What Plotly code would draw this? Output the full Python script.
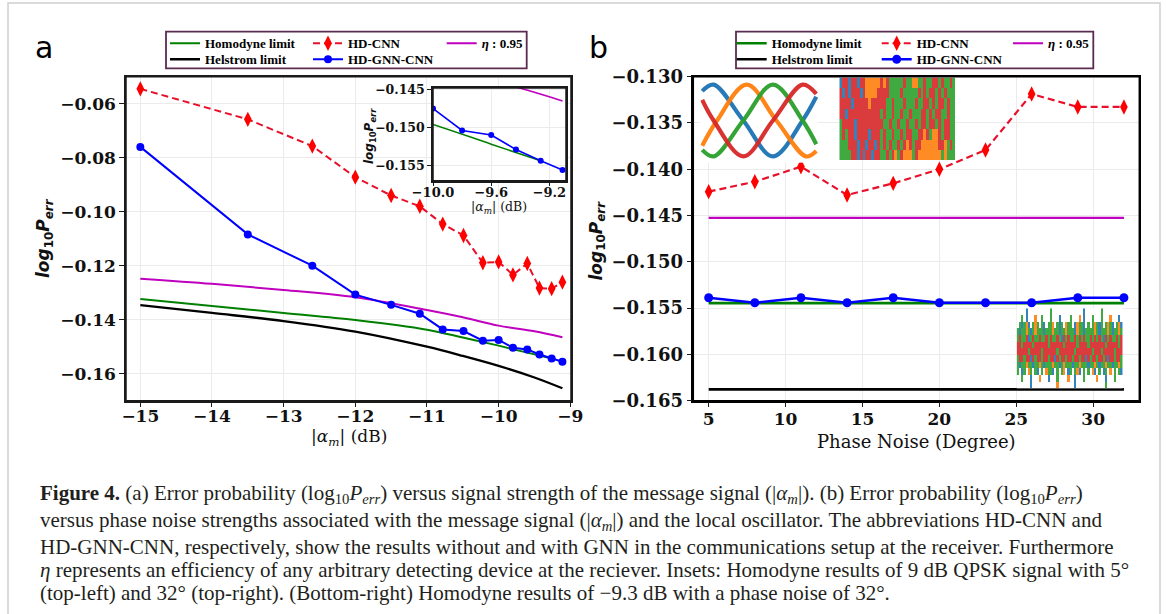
import plotly.graph_objects as go

W, H = 1167, 614


def px(xp):
    return xp / W


def py(yp):
    return 1 - yp / H


# ---------------- Panel (a) data ----------------
alpha_db = [-15.0, -13.5, -12.6, -12.0, -11.5, -11.1, -10.78, -10.49, -10.22, -10.0, -9.8, -9.6, -9.43, -9.26, -9.11]
hd_cnn_a = [-0.0545, -0.0658, -0.0757, -0.0872, -0.0940, -0.0980, -0.1046, -0.1088, -0.1189, -0.1186,
            -0.1234, -0.1192, -0.1283, -0.1285, -0.1261]
hd_gnn_cnn_a = [-0.0760, -0.1084, -0.1200, -0.1307, -0.1345, -0.1378, -0.1436, -0.1442, -0.1478, -0.1475,
                -0.1504, -0.1510, -0.1529, -0.1544, -0.1556]
homodyne_x = [-15.0, -14.0, -13.0, -12.0, -11.0, -10.5, -10.0, -9.6, -9.26]
homodyne_a = [-0.1323, -0.1349, -0.1375, -0.1401, -0.1437, -0.1466, -0.1496, -0.1522, -0.1544]
limit_x = [-15.0, -14.0, -13.0, -12.0, -11.0, -10.5, -10.0, -9.5, -9.11]
helstrom_a = [-0.1346, -0.1375, -0.1405, -0.1444, -0.1500, -0.1534, -0.1571, -0.1614, -0.1654]
eta_a = [-0.1248, -0.1267, -0.1290, -0.1317, -0.1364, -0.1391, -0.1422, -0.1443, -0.1465]

a_xticks = [-15, -14, -13, -12, -11, -10, -9]
a_xticktext = ["\u221215", "\u221214", "\u221213", "\u221212", "\u221211", "\u221210", "\u22129"]
a_yticks = [-0.16, -0.14, -0.12, -0.10, -0.08, -0.06]
a_yticktext = ["\u22120.16", "\u22120.14", "\u22120.12", "\u22120.10", "\u22120.08", "\u22120.06"]
inset_xticks = [-10.0, -9.6, -9.2]
inset_xticktext = ["\u221210.0", "\u22129.6", "\u22129.2"]
inset_yticks = [-0.155, -0.150, -0.145]
inset_yticktext = ["\u22120.155", "\u22120.150", "\u22120.145"]

# ---------------- Panel (b) data ----------------
phase_noise = [5, 8, 11, 14, 17, 20, 23, 26, 29, 32]
hd_cnn_b = [-0.14242, -0.14134, -0.13972, -0.14278, -0.14152, -0.14000, -0.13792, -0.13187, -0.13327, -0.13327]
hd_gnn_cnn_b = [-0.15388, -0.15442, -0.15388, -0.15442, -0.15388, -0.15442, -0.15442, -0.15442, -0.15388, -0.15388]
homodyne_b = [-0.15446, -0.15446, -0.15446, -0.15446, -0.15446, -0.15446, -0.15446, -0.15446, -0.15446, -0.15446]
helstrom_b = [-0.16378, -0.16378, -0.16378, -0.16378, -0.16378, -0.16378, -0.16378, -0.16378, -0.16378, -0.16378]
eta_b = [-0.14525, -0.14525, -0.14525, -0.14525, -0.14525, -0.14525, -0.14525, -0.14525, -0.14525, -0.14525]

b_xticks = [5, 10, 15, 20, 25, 30]
b_xticktext = ["5", "10", "15", "20", "25", "30"]
b_yticks = [-0.165, -0.160, -0.155, -0.150, -0.145, -0.140, -0.135, -0.130]
b_yticktext = ["\u22120.165", "\u22120.160", "\u22120.155", "\u22120.150", "\u22120.145", "\u22120.140",
               "\u22120.135", "\u22120.130"]

# ---------------- Inset images ----------------
# eye diagram (5 deg): normalised time and amplitude of each of the four QPSK traces
eye_t = [0.0, 0.10, 0.36, 0.62, 0.88, 1.0]
eye_t_orange = [0.0, 0.13, 0.39, 0.65, 0.91, 1.0]
eye_blue = [0.885, 0.97, 0.50, 0.03, 0.50, 0.81]
eye_orange = [0.17, 0.50, 0.97, 0.50, 0.03, 0.10]
eye_green = [0.115, 0.03, 0.50, 0.97, 0.50, 0.19]
eye_red = [0.77, 0.50, 0.03, 0.50, 0.97, 0.85]

# dominant trace colour per cell (B blue, O orange, G green, R red, . empty), top row first
noise32_rows = [
    "BRRBRRBRRO" "OOOORORGGG" "GGRGGOOGGR" "GGRRGRGGRG",
    "RBRBRRRBRO" "OOORRRRGGG" "GRGGGGGRGR" "GRRGRGRGGG",
    "RRRRBRRRRR" "ORRRRRGGRG" "GGRGGGRGGR" "RGRGRRGRGG",
    "RRBRRRRRRR" "RRRRGRGGRG" "GRGGRGGGRR" "GRGRRGGRGG",
    "GRRRRBRRRR" "RRRRRGGRGG" "RGGRGGRGRR" "GRRGRGRRGG",
    "GRGRRBRRRR" "BRRRGRGGRG" "GRGRRGGRRO" "RGOORGRRGG",
    "GGGRRRBRRB" "RRBRGRGRGG" "RGRORGRROO" "OOOORROGRG",
    "GGGGRRBRBR" "RBRRGGRGRO" "GROOOGROOO" "OOOOOGOGGG",
]
noise_low_rows = [
    "....B......." "...G........" "......B....." "..G.........",
    "..G.B...O..G" "...G...B...." "G...O.B...G." "..G...O...B.",
    ".GBGOB.GOG.G" "B.GGO.GBG.OG" "G.BOGGB.G.GO" "GBG.GOGB.GOB",
    "GBGGOGBGOGGG" "BGGGOGGBGGOG" "GGBOGGBGGGGO" "GBGGGOGBGGOG",
    "GRGGRBGRGGRG" "GRGRGGRGBRGR" "GGRGRGRGGRGR" "GRGBRGRGGRGR",
    "RRGRRRRGRRRR" "RRGRRRRRRGRR" "RRRGRRRRGRRR" "RRRRGRRRRRGR",
    "RRRRRGRRRRRG" "RRRRRRGRRRRR" "RRGRRRRRRRGR" "RRGRRRRRGRRR",
    "GRRGRRBRGRRG" "RRGRRBRGRRGR" "RGRRGRRBRGRR" "GRRGRBRRGRRG",
    "GBGGOGGBGGOG" "BGGGOGGBGOGG" "GBGGOGGGBGGO" "GBGGOGGBGGOG",
    "G.BG.OG.GB.G" ".OGGB.G.GO.B" "G.GOB.G.G.OB" ".G.BG.O.G.GB",
    "..G...B...O." "..B...G....O" "..B...G....." "O...B...G...",
    "......B....." "......O....." "..B........." "....G.......",
]

TAB = {"B": "#1f77b4", "O": "#ff7f0e", "G": "#2ca02c", "R": "#d62728"}
CODE = {"B": 0, "O": 1, "G": 2, "R": 3}


def to_grid(rows):
    n = max(len(r) for r in rows)
    return [[CODE.get(c) for c in r.ljust(n, ".")] for r in rows[::-1]]


noise_scale = [[0.0, TAB["B"]], [0.25, TAB["B"]], [0.25, TAB["O"]], [0.5, TAB["O"]],
               [0.5, TAB["G"]], [0.75, TAB["G"]], [0.75, TAB["R"]], [1.0, TAB["R"]]]

RED, BLUE, GREEN, BLACK, MAG = "#ff0000", "#0000ff", "#008000", "#000000", "#bf00bf"
RED_LINE = "#e8102a"

fig = go.Figure()

# ---------------- Panel (a) ----------------
fig.add_trace(go.Scatter(x=homodyne_x, y=homodyne_a, mode="lines", name="Homodyne limit",
                         line=dict(color=GREEN, width=2, shape="spline"), legend="legend",
                         xaxis="x", yaxis="y"))
fig.add_trace(go.Scatter(x=limit_x, y=helstrom_a, mode="lines", name="Helstrom limit",
                         line=dict(color=BLACK, width=2.3, shape="spline"), legend="legend2",
                         xaxis="x", yaxis="y"))
fig.add_trace(go.Scatter(x=limit_x, y=eta_a, mode="lines", name="<i>\u03b7</i> : 0.95",
                         line=dict(color=MAG, width=2, shape="spline"), legend="legend5",
                         xaxis="x", yaxis="y"))
fig.add_trace(go.Scatter(x=alpha_db, y=hd_cnn_a, mode="lines+markers", name="HD-CNN",
                         line=dict(color=RED_LINE, width=2, dash="7px,4px"),
                         marker=dict(symbol="diamond-tall", size=11, color=RED), legend="legend3",
                         xaxis="x", yaxis="y"))
fig.add_trace(go.Scatter(x=alpha_db, y=hd_gnn_cnn_a, mode="lines+markers", name="HD-GNN-CNN",
                         line=dict(color=BLUE, width=2),
                         marker=dict(symbol="circle", size=8, color=BLUE), legend="legend4",
                         xaxis="x", yaxis="y"))

# ---------------- Inset of panel (a) ----------------
for xs, ys, col, w in [(homodyne_x, homodyne_a, GREEN, 1.6), (limit_x, helstrom_a, BLACK, 1.6),
                       (limit_x, eta_a, MAG, 1.6)]:
    fig.add_trace(go.Scatter(x=xs, y=ys, mode="lines", line=dict(color=col, width=w, shape="spline"),
                             showlegend=False, xaxis="x3", yaxis="y3", hoverinfo="skip"))
fig.add_trace(go.Scatter(x=alpha_db, y=hd_gnn_cnn_a, mode="lines+markers", line=dict(color=BLUE, width=1.6),
                         marker=dict(size=6, color=BLUE), showlegend=False, xaxis="x3", yaxis="y3"))

# ---------------- Panel (b) ----------------
fig.add_trace(go.Scatter(x=phase_noise, y=homodyne_b, mode="lines", name="Homodyne limit",
                         line=dict(color=GREEN, width=2.6), legend="legend6", xaxis="x2", yaxis="y2"))
fig.add_trace(go.Scatter(x=phase_noise, y=helstrom_b, mode="lines", name="Helstrom limit",
                         line=dict(color=BLACK, width=2.6), legend="legend7", xaxis="x2", yaxis="y2"))
fig.add_trace(go.Scatter(x=phase_noise, y=eta_b, mode="lines", name="<i>\u03b7</i> : 0.95",
                         line=dict(color=MAG, width=2.2), legend="legend10", xaxis="x2", yaxis="y2"))
fig.add_trace(go.Scatter(x=phase_noise, y=hd_cnn_b, mode="lines+markers", name="HD-CNN",
                         line=dict(color=RED_LINE, width=2.2, dash="7px,4px"),
                         marker=dict(symbol="diamond-tall", size=11, color=RED), legend="legend8",
                         xaxis="x2", yaxis="y2"))
fig.add_trace(go.Scatter(x=phase_noise, y=hd_gnn_cnn_b, mode="lines+markers", name="HD-GNN-CNN",
                         line=dict(color=BLUE, width=2.4),
                         marker=dict(symbol="circle", size=9, color=BLUE), legend="legend9",
                         xaxis="x2", yaxis="y2"))

# ---------------- Insets of panel (b) ----------------
for tt, yy, key in [(eye_t, eye_blue, "B"), (eye_t_orange, eye_orange, "O"),
                    (eye_t, eye_green, "G"), (eye_t, eye_red, "R")]:
    fig.add_trace(go.Scatter(x=tt, y=yy, mode="lines", line=dict(color=TAB[key], width=4.2, shape="spline"),
                             opacity=0.95, showlegend=False, xaxis="x4", yaxis="y4", hoverinfo="skip"))

fig.add_trace(go.Heatmap(z=to_grid(noise32_rows), colorscale=noise_scale, zmin=-0.5, zmax=3.5,
                         showscale=False, opacity=0.9, xaxis="x5", yaxis="y5", hoverinfo="skip"))
fig.add_trace(go.Heatmap(z=to_grid(noise_low_rows), colorscale=noise_scale, zmin=-0.5, zmax=3.5,
                         showscale=False, opacity=0.9, xaxis="x6", yaxis="y6", hoverinfo="skip"))

# ---------------- Axes ----------------
SPINE = "#1a1a1a"


def axis(**kw):
    base = dict(showline=True, linecolor=SPINE, linewidth=1.5, mirror=True, ticks="outside", ticklen=5,
                tickwidth=1.3, tickcolor=SPINE, showgrid=True, gridcolor="#ebebeb", gridwidth=1,
                zeroline=False, automargin=False, layer="above traces",
                tickfont=dict(family="DejaVu Serif", size=17, color="#111111", weight="bold"))
    base.update(kw)
    return base


n32 = max(len(r) for r in noise32_rows)
nlow = max(len(r) for r in noise_low_rows)

fig.update_layout(
    width=W, height=H, autosize=False,
    margin=dict(l=0, r=0, t=0, b=0),
    paper_bgcolor="white", plot_bgcolor="white",
    xaxis=axis(domain=[px(126), px(571)], anchor="y", range=[-15.2, -8.99], ticklabelstandoff=-6,
               tickmode="array", tickvals=a_xticks, ticktext=a_xticktext),
    yaxis=axis(domain=[py(400.7), py(76.7)], anchor="x", range=[-0.17, -0.05],
               tickmode="array", tickvals=a_yticks, ticktext=a_yticktext),
    xaxis2=axis(domain=[px(693.3), px(1139.3)], anchor="y2", range=[4.0, 33.0], ticklabelstandoff=-3,
                tickmode="array", tickvals=b_xticks, ticktext=b_xticktext, linecolor="#000000"),
    yaxis2=axis(domain=[py(400.7), py(76.7)], anchor="x2", range=[-0.165, -0.130],
                tickmode="array", tickvals=b_yticks, ticktext=b_yticktext, linecolor="#000000",
                tickfont=dict(family="DejaVu Serif", size=18, color="#111111", weight="bold")),
    xaxis3=axis(domain=[px(433), px(566)], anchor="y3", range=[-10.0, -9.086], ticklen=4,
                ticklabelstandoff=-5,
                tickmode="array", tickvals=inset_xticks, ticktext=inset_xticktext,
                tickfont=dict(family="DejaVu Serif", size=13, color="#111111", weight="bold")),
    yaxis3=axis(domain=[py(180.7), py(88.0)], anchor="x3", range=[-0.15702, -0.1448], ticklen=4,
                tickmode="array", tickvals=inset_yticks, ticktext=inset_yticktext,
                tickfont=dict(family="DejaVu Serif", size=12.5, color="#111111", weight="bold")),
    xaxis4=dict(domain=[px(700.5), px(818)], anchor="y4", range=[-0.015, 1.015], visible=False),
    yaxis4=dict(domain=[py(162.5), py(78.5)], anchor="x4", range=[-0.05, 1.05], visible=False),
    xaxis5=dict(domain=[px(839.3), px(955)], anchor="y5", range=[-0.5, n32 - 0.5], visible=False),
    yaxis5=dict(domain=[py(160), py(77.5)], anchor="x5", range=[-0.5, len(noise32_rows) - 0.5], visible=False),
    xaxis6=dict(domain=[px(1016.7), px(1122.7)], anchor="y6", range=[-0.5, nlow - 0.5], visible=False),
    yaxis6=dict(domain=[py(388.3), py(308.3)], anchor="x6", range=[-0.5, len(noise_low_rows) - 0.5],
                visible=False),
)

# ---------------- Legends (3 columns x 2 rows per panel) ----------------
LEG_FONT = dict(family="Liberation Serif", size=13, color="#000000", weight="bold")


def legend_at(text_left, row_center):
    return dict(x=px(text_left - 40), y=py(row_center), xanchor="left", yanchor="middle",
                bgcolor="rgba(0,0,0,0)", borderwidth=0, font=LEG_FONT, itemwidth=30,
                tracegroupgap=0)


fig.update_layout(
    legend=legend_at(205, 43.3), legend2=legend_at(205, 59.3),
    legend3=legend_at(348, 43.3), legend4=legend_at(348, 59.3),
    legend5=legend_at(481.7, 43.3),
    legend6=legend_at(771.7, 43.3), legend7=legend_at(771.7, 59.3),
    legend8=legend_at(916.7, 43.3), legend9=legend_at(916.7, 59.3),
    legend10=legend_at(1048, 43.3),
)

# ---------------- Shapes ----------------
shapes = []
# page frame
shapes.append(dict(type="rect", xref="paper", yref="paper", x0=px(8), x1=px(1160), y0=py(640), y1=py(3),
                   line=dict(color="#cfcfcf", width=1.5), fillcolor="rgba(0,0,0,0)", layer="below"))
# legend frames
for x0, x1 in [(166, 526.7), (736, 1093.3)]:
    shapes.append(dict(type="rect", xref="paper", yref="paper", x0=px(x0), x1=px(x1), y0=py(68.3),
                       y1=py(31.7), line=dict(color="#5b2c4f", width=1.8), fillcolor="rgba(0,0,0,0)",
                       layer="above"))
# white backgrounds of the insets
shapes.append(dict(type="rect", xref="x3", yref="y3", x0=-10.0, x1=-9.086, y0=-0.15702, y1=-0.1448,
                   fillcolor="white", line=dict(width=0), layer="below"))
shapes.append(dict(type="rect", xref="x4", yref="y4", x0=-0.015, x1=1.015, y0=-0.05, y1=1.05,
                   fillcolor="white", line=dict(width=0), layer="below"))
shapes.append(dict(type="rect", xref="x5", yref="y5", x0=-0.5, x1=n32 - 0.5, y0=-0.5,
                   y1=len(noise32_rows) - 0.5, fillcolor="white", line=dict(width=0), layer="below"))
shapes.append(dict(type="rect", xref="x6", yref="y6", x0=-0.5, x1=nlow - 0.5, y0=-0.5,
                   y1=len(noise_low_rows) - 0.5, fillcolor="white", line=dict(width=0), layer="below"))
# axes frames (spines)
for xr, yr, col in [("x", "y", SPINE), ("x2", "y2", "#000000"), ("x3", "y3", SPINE)]:
    shapes.append(dict(type="rect", xref=xr + " domain", yref=yr + " domain", x0=0, x1=1, y0=0, y1=1,
                       line=dict(color=col, width=1.5), fillcolor="rgba(0,0,0,0)", layer="above"))
fig.update_layout(shapes=shapes)

# ---------------- Text ----------------
ann = []


def text(x, y, s, size, family="DejaVu Serif", angle=0, xanchor="center", color="#111111", weight="normal"):
    ann.append(dict(x=px(x), y=py(y), xref="paper", yref="paper", text=s, showarrow=False,
                    xanchor=xanchor, yanchor="middle", textangle=angle,
                    font=dict(family=family, size=size, color=color, weight=weight)))


YLAB = "<i>log</i><sub>10</sub><i>P</i><sub><i>err</i></sub>"
ALAB = "|<i>\u03b1</i><sub><i>m</i></sub>| (dB)"

text(43.5, 47, "a", 30, family="DejaVu Sans", color="#000000")
text(598, 47, "b", 30, family="DejaVu Sans", color="#000000")
text(348.5, 437, ALAB, 17)
text(45, 238, YLAB, 17, family="DejaVu Sans", angle=-90, weight="bold")
text(916, 441, "Phase Noise (Degree)", 18)
text(597.5, 241, YLAB, 17, family="DejaVu Sans", angle=-90, weight="bold")
text(499, 208, ALAB, 12.5)
text(370, 136, YLAB, 12, family="DejaVu Sans", angle=-90, weight="bold")

caption_lines = [
    "<b>Figure 4.</b> (a) Error probability (log<sub>10</sub><i>P</i><sub><i>err</i></sub>) versus signal strength "
    "of the message signal (|<i>\u03b1</i><sub><i>m</i></sub>|). (b) Error probability "
    "(log<sub>10</sub><i>P</i><sub><i>err</i></sub>)",
    "versus phase noise strengths associated with the message signal (|<i>\u03b1</i><sub><i>m</i></sub>|) "
    "and the local oscillator. The abbreviations HD-CNN and",
    "HD-GNN-CNN, respectively, show the results without and with GNN in the communications setup at the "
    "receiver. Furthermore",
    "<i>\u03b7</i> represents an efficiency of any arbitrary detecting device at the reciever. Insets: Homodyne "
    "results of 9 dB QPSK signal with 5\u00b0",
    "(top-left) and 32\u00b0 (top-right). (Bottom-right) Homodyne results of \u22129.3 dB with a phase noise "
    "of 32\u00b0.",
]
cap_y = [494, 520.5, 547, 570, 593]
for line, yy in zip(caption_lines, cap_y):
    text(38, yy, line, 21, family="Liberation Serif", xanchor="left", color="#231f20")

fig.update_layout(annotations=ann)

fig.write_html("out.html", config={"displayModeBar": False},
               post_script="document.body.style.margin='0px';document.body.style.overflow='hidden';")
